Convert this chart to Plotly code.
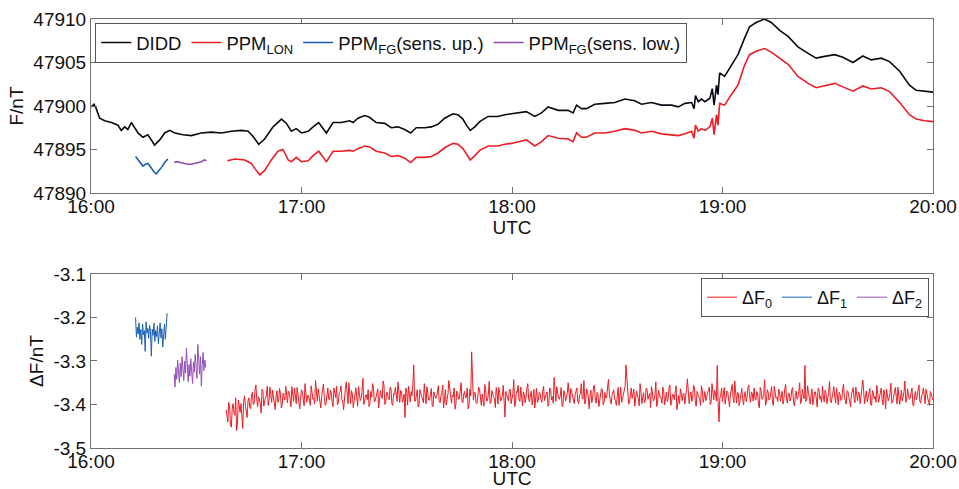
import numpy as np
import pandas as pd
import plotly.graph_objects as go

# ---------------- data (minutes after 16:00 UTC) ----------------
didd_t = [0.1, 0.85, 1.5, 2.47, 3.9, 5.8, 7.7, 8.6, 9.6, 10.5, 11.5, 12.4, 13.4, 14.8, 16.2, 17.2, 18.1,
          19.6, 21.0, 22.4, 23.9, 26.2, 28.6, 31.4, 34.3, 37.2, 40.0, 42.9, 44.8, 46.2, 47.8, 49.5, 51.9,
          54.3, 55.7, 57.1, 58.5, 60.0, 61.9, 63.3, 64.9, 67.1, 69.0, 71.4, 73.7, 74.7, 76.1, 78.0, 79.4,
          81.3, 83.7, 85.6, 87.5, 89.4, 91.1, 92.7, 95.1, 97.0, 98.9, 100.8, 103.2, 104.6, 106.0, 107.0,
          108.1, 109.4, 110.8, 113.2, 116.0, 117.9, 119.8, 121.8, 124.1, 126.5, 128.4, 130.3, 133.2,
          136.0, 137.4, 138.4, 139.8, 141.2, 143.6, 146.5, 149.3, 152.2, 155.0, 156.9, 159.8, 162.6,
          165.5, 167.4, 169.3, 171.2, 171.9, 172.3, 173.1, 174.0, 175.0, 176.4, 177.1, 177.6, 178.3,
          178.7, 179.2, 180.6, 182.5, 184.4, 186.3, 187.7, 189.6, 192.0, 193.9, 196.3, 198.7, 201.5,
          204.4, 206.7, 209.1, 212.0, 214.3, 217.2, 220.0, 222.4, 225.3, 227.6, 230.5, 233.3, 235.2,
          237.6, 240.0]
didd_v = [47899.9, 47900.2, 47899.7, 47898.6, 47898.3, 47898.1, 47897.8, 47897.2, 47897.6, 47897.3,
          47898.1, 47897.6, 47896.9, 47896.4, 47896.7, 47896.1, 47895.5, 47896.1, 47896.9, 47897.2,
          47896.9, 47896.7, 47896.6, 47896.9, 47897.0, 47896.9, 47897.1, 47897.2, 47897.1, 47896.5,
          47895.6, 47896.2, 47897.6, 47898.5, 47898.0, 47897.1, 47897.4, 47896.9, 47897.1, 47897.6,
          47898.1, 47896.9, 47898.1, 47898.1, 47898.3, 47898.1, 47898.6, 47898.9, 47898.7, 47898.1,
          47898.0, 47897.5, 47897.6, 47897.3, 47896.9, 47897.5, 47897.5, 47897.6, 47897.9, 47898.6,
          47899.1, 47899.0, 47898.5, 47897.8, 47897.2, 47897.6, 47898.2, 47898.8, 47898.8, 47899.0,
          47899.1, 47899.2, 47899.35, 47898.8, 47899.2, 47899.9, 47899.5, 47899.5, 47899.2, 47900.1,
          47899.7, 47899.7, 47900.2, 47900.3, 47900.4, 47900.8, 47900.6, 47900.2, 47900.4, 47900.1,
          47900.1, 47899.9, 47900.3, 47900.4, 47899.7, 47901.2, 47900.5, 47900.8, 47900.5, 47900.9,
          47902.0, 47900.1, 47902.4, 47901.3, 47903.8, 47903.4, 47904.7, 47905.9, 47907.8, 47909.1,
          47909.6, 47910.0, 47909.6, 47908.7, 47908.0, 47906.8, 47906.05, 47905.5, 47905.7, 47905.9,
          47905.6, 47905.0, 47905.75, 47905.3, 47905.5, 47905.1, 47904.0, 47902.4, 47901.8, 47901.7,
          47901.6]

lon_t = [38.9, 41.0, 43.8, 45.7, 46.7, 48.1, 49.5, 51.4, 53.3, 54.7, 56.2, 57.1, 58.5, 60.0, 61.9, 63.3,
         64.9, 67.1, 69.0, 71.4, 73.7, 74.7, 76.1, 78.0, 79.4, 81.3, 83.7, 85.6, 87.5, 89.4, 91.1, 92.7,
         95.1, 97.0, 98.9, 100.8, 103.2, 104.6, 106.0, 107.0, 108.1, 109.4, 110.8, 113.2, 116.0, 117.9,
         119.8, 121.8, 124.1, 126.5, 128.4, 130.3, 133.2, 136.0, 137.4, 138.4, 139.8, 141.2, 143.6,
         146.5, 149.3, 152.2, 155.0, 156.9, 159.8, 162.6, 165.5, 167.4, 169.3, 171.2, 171.9, 172.3,
         173.1, 174.0, 175.0, 176.4, 177.1, 177.6, 178.3, 178.7, 179.2, 180.6, 182.5, 184.4, 186.3,
         187.7, 189.6, 192.0, 193.9, 196.3, 198.7, 201.5, 204.4, 206.7, 209.1, 212.0, 214.3, 217.2,
         220.0, 222.4, 225.3, 227.6, 230.5, 233.3, 235.2, 237.6, 240.0]
lon_v = [47893.7, 47893.9, 47893.8, 47893.4, 47892.8, 47892.1, 47892.6, 47893.8, 47894.8, 47895.0,
         47893.8, 47893.6, 47894.1, 47893.6, 47893.7, 47894.3, 47894.8, 47893.6, 47894.8, 47894.8,
         47894.9, 47894.8, 47895.1, 47895.4, 47895.3, 47894.8, 47894.6, 47894.2, 47894.3, 47894.0,
         47893.5, 47894.1, 47894.1, 47894.2, 47894.6, 47895.2, 47895.7, 47895.6, 47895.1, 47894.5,
         47893.8, 47894.3, 47894.9, 47895.4, 47895.4, 47895.6, 47895.7, 47895.9, 47896.1, 47895.4,
         47895.9, 47896.6, 47896.3, 47896.2, 47895.9, 47896.9, 47896.4, 47896.4, 47896.9, 47896.9,
         47897.1, 47897.4, 47897.2, 47896.9, 47897.1, 47896.8, 47896.7, 47896.6, 47896.8, 47897.1,
         47896.3, 47897.8, 47897.1, 47897.4, 47897.2, 47897.6, 47898.6, 47896.7, 47899.0, 47897.8,
         47900.3, 47900.1, 47901.3, 47902.4, 47904.7, 47905.9, 47906.3, 47906.6, 47906.2, 47905.5,
         47904.8, 47903.4, 47902.6, 47902.1, 47902.3, 47902.6, 47902.2, 47901.7, 47902.3, 47901.95,
         47902.1, 47901.65, 47900.4, 47899.0, 47898.5, 47898.3, 47898.2]

fg_up_t = [12.7, 13.5, 14.3, 14.8, 15.5, 16.2, 17.0, 17.8, 18.6, 19.3, 20.2, 21.0, 21.9]
fg_up_v = [47894.2, 47893.8, 47893.3, 47893.1, 47893.3, 47893.4, 47893.0, 47892.5, 47892.2,
           47892.5, 47893.0, 47893.5, 47893.9]

fg_low_t = [23.7, 24.5, 25.5, 26.5, 27.5, 28.5, 29.5, 30.5, 31.5, 32.3, 32.9]
fg_low_v = [47893.5, 47893.6, 47893.5, 47893.4, 47893.3, 47893.3, 47893.4, 47893.5, 47893.6,
            47893.8, 47893.7]

# Delta F series, in 0.001 nT, sampled on regular grids (two interleaved sample sets for dF0)
dF0_start_a, dF0_start_b, dF0_step = 38.5, 38.75, 0.5
dF0_milli_a = [
    -3412, -3440, -3405, -3452, -3398, -3425, -3460, -3390, -3418, -3435, -3395, -3402, -3430, -3385, -3410, -3372, -3398, -3355, -3405, -3388,
    -3420, -3370, -3392, -3378, -3402, -3360, -3395, -3383, -3412, -3368, -3390, -3376, -3400, -3385, -3358, -3396, -3372, -3405, -3380, -3362,
    -3398, -3375, -3410, -3366, -3388, -3352, -3395, -3379, -3402, -3370, -3385, -3344, -3392, -3376, -3408, -3368, -3384, -3398, -3362, -3390,
    -3374, -3405, -3380, -3358, -3396, -3371, -3388, -3412, -3365, -3382, -3350, -3398, -3376, -3390, -3362, -3404, -3372, -3386, -3340, -3394,
    -3378, -3366, -3399, -3383, -3360, -3392, -3375, -3408, -3368, -3386, -3355, -3397, -3373, -3389, -3362, -3402, -3377, -3384, -3348, -3395,
    -3370, -3388, -3430, -3372, -3358, -3394, -3380, -3309, -3392, -3366, -3401, -3375, -3386, -3352, -3398, -3371, -3390, -3363, -3405, -3379,
    -3384, -3357, -3396, -3373, -3408, -3366, -3389, -3345, -3392, -3378, -3362, -3400, -3374, -3387, -3350, -3396, -3370, -3383, -3410, -3365,
    -3279, -3390, -3372, -3398, -3360, -3385, -3376, -3404, -3366, -3391, -3347, -3395, -3378, -3386, -3361, -3399, -3373, -3388, -3356, -3429,
    -3376, -3392, -3365, -3384, -3343, -3397, -3372, -3389, -3360, -3403, -3377, -3385, -3352, -3394, -3369, -3381, -3408, -3363, -3390, -3374,
    -3395, -3358, -3386, -3371, -3400, -3364, -3382, -3338, -3393, -3375, -3388, -3361, -3405, -3373, -3384, -3350, -3396, -3368, -3389, -3377,
    -3362, -3398, -3374, -3386, -3345, -3392, -3370, -3410, -3367, -3383, -3356, -3397, -3376, -3388, -3363, -3401, -3372, -3385, -3342, -3394,
    -3379, -3366, -3391, -3374, -3402, -3360, -3387, -3371, -3309, -3384, -3395, -3362, -3378, -3404, -3369, -3386, -3352, -3398, -3373, -3390,
    -3365, -3382, -3407, -3370, -3389, -3348, -3396, -3375, -3384, -3360, -3401, -3372, -3387, -3355, -3393, -3378, -3369, -3412, -3380, -3364,
    -3391, -3374, -3386, -3341, -3398, -3371, -3383, -3362, -3404, -3376, -3388, -3357, -3395, -3370, -3385, -3366, -3400, -3352, -3389, -3375,
    -3310, -3440, -3378, -3393, -3361, -3386, -3372, -3405, -3366, -3382, -3346, -3397, -3374, -3389, -3363, -3401, -3370, -3384, -3355, -3395,
    -3376, -3362, -3390, -3373, -3408, -3368, -3385, -3343, -3396, -3371, -3387, -3359, -3402, -3377, -3383, -3365, -3393, -3370, -3388, -3354,
    -3397, -3374, -3386, -3361, -3403, -3369, -3384, -3350, -3392, -3376, -3310, -3389, -3372, -3399, -3364, -3385, -3371, -3406, -3366, -3381,
    -3358, -3394, -3375, -3388, -3347, -3396, -3370, -3384, -3362, -3401, -3377, -3389, -3353, -3393, -3368, -3382, -3405, -3372, -3386, -3360,
    -3392, -3376, -3384, -3344, -3398, -3369, -3387, -3363, -3402, -3374, -3381, -3356, -3395, -3371, -3389, -3366, -3410, -3378, -3385, -3351,
    -3394, -3373, -3388, -3360, -3400, -3367, -3383, -3346, -3391, -3377, -3386, -3362, -3404, -3370, -3382, -3355, -3397, -3374, -3389, -3365,
    -3384, -3402, -3376, -3390]
dF0_milli_b = [
    -3428, -3395, -3447, -3410, -3420, -3385, -3442, -3403, -3398, -3455, -3380, -3415, -3392, -3406, -3378, -3400, -3366, -3389, -3382, -3397,
    -3365, -3404, -3384, -3358, -3391, -3377, -3367, -3399, -3381, -3395, -3363, -3408, -3374, -3390, -3380, -3369, -3386, -3359, -3393, -3376,
    -3361, -3397, -3385, -3372, -3403, -3368, -3380, -3391, -3357, -3388, -3399, -3375, -3364, -3394, -3381, -3353, -3402, -3371, -3387, -3367,
    -3396, -3362, -3384, -3401, -3373, -3357, -3392, -3379, -3348, -3398, -3385, -3368, -3407, -3375, -3383, -3359, -3391, -3370, -3400, -3378,
    -3389, -3405, -3370, -3352, -3394, -3381, -3364, -3390, -3377, -3346, -3400, -3372, -3386, -3360, -3398, -3375, -3361, -3393, -3384, -3368,
    -3395, -3376, -3362, -3401, -3387, -3370, -3352, -3392, -3378, -3406, -3366, -3384, -3396, -3374, -3359, -3390, -3379, -3402, -3371, -3386,
    -3368, -3393, -3380, -3355, -3389, -3401, -3375, -3364, -3397, -3382, -3411, -3369, -3388, -3356, -3394, -3376, -3385, -3362, -3399, -3380,
    -3338, -3373, -3396, -3383, -3365, -3402, -3387, -3354, -3392, -3378, -3398, -3368, -3383, -3407, -3374, -3361, -3392, -3380, -3399, -3370,
    -3387, -3366, -3398, -3375, -3405, -3370, -3356, -3393, -3382, -3371, -3396, -3362, -3388, -3378, -3401, -3365, -3384, -3395, -3372, -3389,
    -3370, -3391, -3377, -3404, -3362, -3389, -3397, -3373, -3359, -3386, -3380, -3402, -3368, -3392, -3375, -3389, -3363, -3381, -3398, -3366,
    -3393, -3379, -3352, -3387, -3399, -3364, -3383, -3376, -3396, -3358, -3390, -3372, -3405, -3381, -3367, -3394, -3385, -3360, -3378, -3399,
    -3370, -3387, -3402, -3361, -3380, -3395, -3374, -3358, -3345, -3399, -3372, -3386, -3365, -3391, -3378, -3403, -3369, -3384, -3396, -3362,
    -3388, -3374, -3359, -3392, -3378, -3405, -3367, -3385, -3397, -3371, -3383, -3393, -3362, -3402, -3376, -3389, -3357, -3386, -3398, -3372,
    -3377, -3399, -3363, -3387, -3381, -3393, -3356, -3394, -3370, -3386, -3402, -3368, -3383, -3391, -3374, -3360, -3396, -3380, -3367, -3392,
    -3395, -3385, -3362, -3376, -3399, -3369, -3391, -3378, -3354, -3396, -3385, -3372, -3403, -3366, -3387, -3378, -3393, -3360, -3384, -3371,
    -3392, -3385, -3370, -3399, -3361, -3388, -3377, -3402, -3366, -3390, -3374, -3396, -3358, -3386, -3393, -3371, -3383, -3399, -3364, -3387,
    -3375, -3392, -3366, -3396, -3380, -3388, -3371, -3398, -3365, -3387, -3393, -3357, -3389, -3378, -3401, -3371, -3392, -3362, -3388, -3395,
    -3381, -3367, -3398, -3373, -3391, -3380, -3359, -3397, -3386, -3372, -3391, -3365, -3384, -3399, -3370, -3394, -3378, -3361, -3396, -3383,
    -3371, -3398, -3360, -3389, -3382, -3394, -3374, -3400, -3368, -3387, -3395, -3373, -3383, -3362, -3401, -3379, -3365, -3392, -3374, -3397,
    -3386, -3361, -3399, -3376, -3383, -3392, -3370, -3395, -3364, -3388, -3373, -3400, -3379, -3389, -3366, -3393, -3380, -3362, -3398, -3377,
    -3395, -3370, -3388]

dF1_start, dF1_step = 12.7, 0.25
dF1_milli = [-3200, -3245, -3222, -3238, -3212, -3250, -3228, -3262, -3215, -3240, -3230, -3278, -3210,
             -3236, -3225, -3248, -3218, -3232, -3289, -3227, -3241, -3213, -3255, -3230, -3244, -3219,
             -3260, -3234, -3212, -3247, -3226, -3268, -3238, -3215, -3250, -3222, -3190]

dF2_start, dF2_step = 23.7, 0.25
dF2_milli = [-3330, -3360, -3315, -3342, -3298, -3325, -3350, -3305, -3336, -3290, -3318, -3345, -3300,
             -3328, -3270, -3322, -3348, -3308, -3335, -3295, -3316, -3352, -3302, -3326, -3285, -3312,
             -3340, -3262, -3305, -3330, -3290, -3358, -3310, -3280, -3322, -3298, -3315]

top_yticks = [47890, 47895, 47900, 47905, 47910]
bot_yticks = [-3.5, -3.4, -3.3, -3.2, -3.1]
bot_yticklabels = ["-3.5", "-3.4", "-3.3", "-3.2", "-3.1"]

# ---------------- helpers ----------------
BASE = pd.Timestamp("2000-01-01 16:00:00")


def to_time(minutes):
    return BASE + pd.to_timedelta(np.asarray(minutes, dtype=float), unit="min")


def grid(start, step, n):
    return start + step * np.arange(n)


# merge the two interleaved dF0 sample sets in time order
t0 = np.concatenate([grid(dF0_start_a, dF0_step, len(dF0_milli_a)),
                     grid(dF0_start_b, dF0_step, len(dF0_milli_b))])
v0 = np.concatenate([dF0_milli_a, dF0_milli_b]) / 1000.0
order = np.argsort(t0)
t0, v0 = t0[order], v0[order]

FONT = "Liberation Sans, Arial, sans-serif"
AX = "#707070"

fig = go.Figure()

fig.add_trace(go.Scatter(x=to_time(didd_t), y=didd_v, mode="lines", name="DIDD",
                         line=dict(color="#0a0a14", width=1.6), legend="legend"))
fig.add_trace(go.Scatter(x=to_time(lon_t), y=lon_v, mode="lines", name="PPM<sub>LON</sub>",
                         line=dict(color="#ee1c24", width=1.6), legend="legend"))
fig.add_trace(go.Scatter(x=to_time(fg_up_t), y=fg_up_v, mode="lines", name="PPM<sub>FG</sub>(sens. up.)",
                         line=dict(color="#155fb0", width=1.6), legend="legend"))
fig.add_trace(go.Scatter(x=to_time(fg_low_t), y=fg_low_v, mode="lines", name="PPM<sub>FG</sub>(sens. low.)",
                         line=dict(color="#8c4cb0", width=1.6), legend="legend"))

fig.add_trace(go.Scatter(x=to_time(t0), y=v0, mode="lines", name="ΔF<sub>0</sub>",
                         line=dict(color="#ee1c24", width=1.0), xaxis="x2", yaxis="y2", legend="legend2"))
fig.add_trace(go.Scatter(x=to_time(grid(dF1_start, dF1_step, len(dF1_milli))),
                         y=np.array(dF1_milli) / 1000.0, mode="lines", name="ΔF<sub>1</sub>",
                         line=dict(color="#1a5fb4", width=1.0), xaxis="x2", yaxis="y2", legend="legend2"))
fig.add_trace(go.Scatter(x=to_time(grid(dF2_start, dF2_step, len(dF2_milli))),
                         y=np.array(dF2_milli) / 1000.0, mode="lines", name="ΔF<sub>2</sub>",
                         line=dict(color="#9450b8", width=1.0), xaxis="x2", yaxis="y2", legend="legend2"))

xr = [BASE, BASE + pd.Timedelta(hours=4)]
common_x = dict(type="date", range=xr, dtick=3600000, tickformat="%H:%M", showline=True, linecolor=AX,
                linewidth=1, mirror="ticks", ticks="inside", ticklen=6, tickcolor=AX, showgrid=False,
                zeroline=False, automargin=False, ticklabelstandoff=-4,
                tickfont=dict(size=19, color="#111"),
                title=dict(text="UTC", font=dict(size=19, color="#111"), standoff=0))
common_y = dict(showline=True, linecolor=AX, linewidth=1, mirror="ticks", ticks="inside", ticklen=6,
                tickcolor=AX, showgrid=False, zeroline=False, automargin=False,
                tickfont=dict(size=19, color="#111"))

fig.update_layout(
    width=959, height=489,
    margin=dict(l=91, r=26, t=19, b=41),
    paper_bgcolor="white", plot_bgcolor="white",
    font=dict(family=FONT, size=19, color="#111"),
    xaxis=dict(common_x, domain=[0, 1], anchor="y"),
    yaxis=dict(common_y, domain=[0.5944, 1.0], anchor="x", range=[47890, 47910],
               tickvals=top_yticks, ticktext=[str(v) for v in top_yticks],
               title=dict(text="F/nT", font=dict(size=19), standoff=4)),
    xaxis2=dict(common_x, domain=[0, 1], anchor="y2"),
    yaxis2=dict(common_y, domain=[0.0, 0.4056], anchor="x2", range=[-3.5, -3.1],
                tickvals=bot_yticks, ticktext=bot_yticklabels,
                title=dict(text="ΔF/nT", font=dict(size=19), standoff=4)),
    legend=dict(orientation="h", x=0.005, y=0.9907, xanchor="left", yanchor="top",
                bgcolor="white", bordercolor="#555", borderwidth=1,
                font=dict(size=18.5, color="#111"), itemwidth=30, tracegroupgap=0),
    legend2=dict(orientation="h", x=0.9952, y=0.3963, xanchor="right", yanchor="top",
                 bgcolor="white", bordercolor="#555", borderwidth=1,
                 font=dict(size=18, color="#111"), itemwidth=30),
    showlegend=True,
)

fig.write_html("out.html", config={"displayModeBar": False},
               post_script="document.body.style.margin='0px';document.body.style.padding='0px';")
